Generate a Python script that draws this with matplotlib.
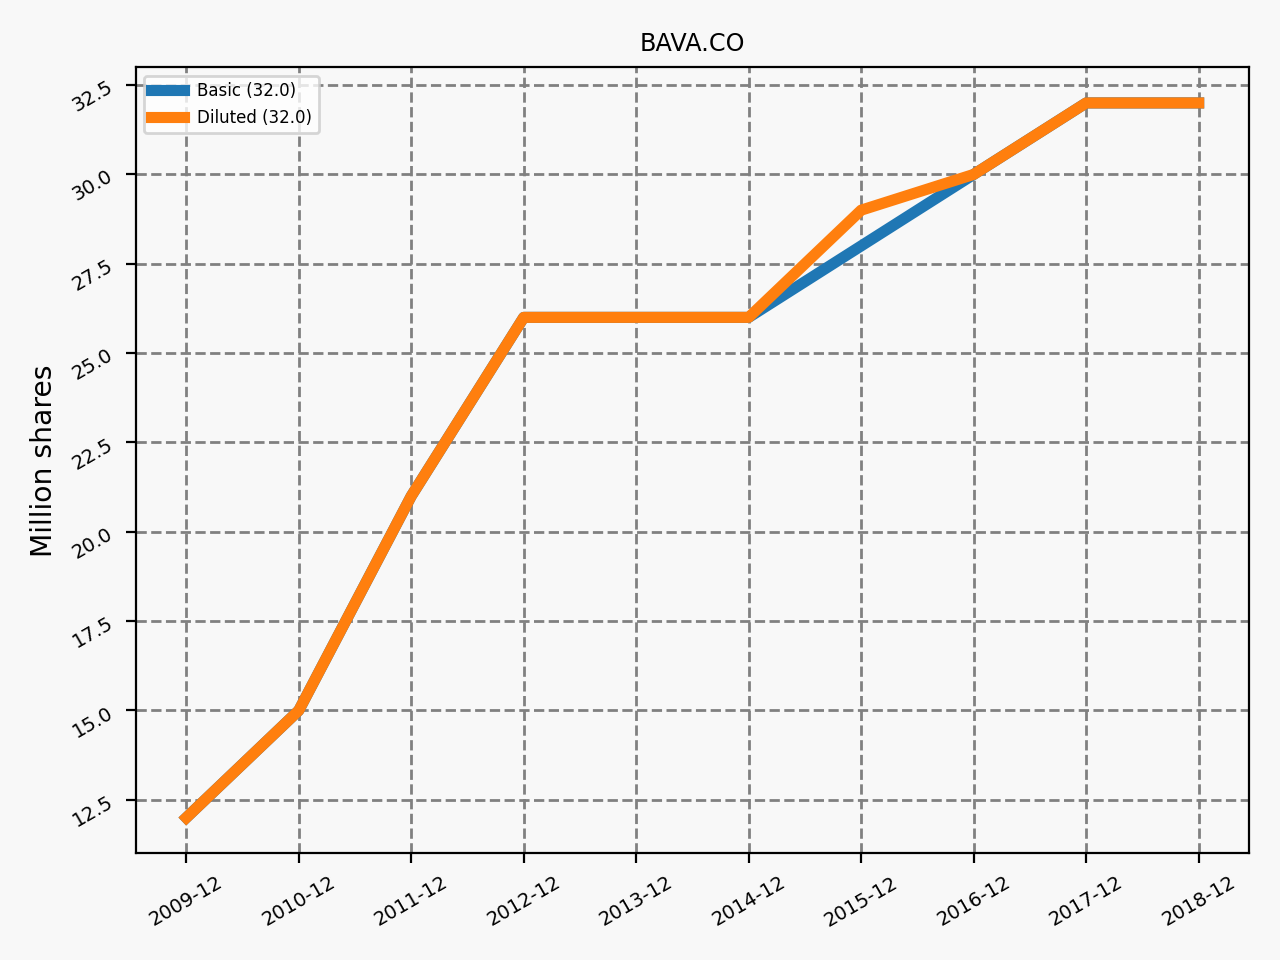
import matplotlib
matplotlib.use("Agg")
import matplotlib.pyplot as plt

periods = ["2009-12", "2010-12", "2011-12", "2012-12", "2013-12",
           "2014-12", "2015-12", "2016-12", "2017-12", "2018-12"]
basic = [12, 15, 21, 26, 26, 26, 28, 30, 32, 32]
diluted = [12, 15, 21, 26, 26, 26, 29, 30, 32, 32]

bg = "#f8f8f8"
fig, ax = plt.subplots(figsize=(6.4, 4.8), dpi=200)
fig.patch.set_facecolor(bg)
ax.set_facecolor(bg)

ax.plot(periods, basic, color="#1f77b4", linewidth=4, label="Basic (%.1f)" % basic[-1])
ax.plot(periods, diluted, color="#ff7f0e", linewidth=4, label="Diluted (%.1f)" % diluted[-1])

ax.grid(True, color="grey", linestyle="--", linewidth=1)
ax.set_axisbelow(True)
ax.set_title("BAVA.CO", fontsize=8.6)
ax.set_ylabel("Million shares", fontsize=10.2)
ax.tick_params(axis="x", labelsize=7, rotation=30)
ax.tick_params(axis="y", labelsize=7, rotation=30)
ax.legend(loc="upper left", fontsize=6)

fig.subplots_adjust(left=0.106, right=0.976, top=0.930, bottom=0.111)
fig.savefig("out.png", dpi=200, facecolor=bg)
